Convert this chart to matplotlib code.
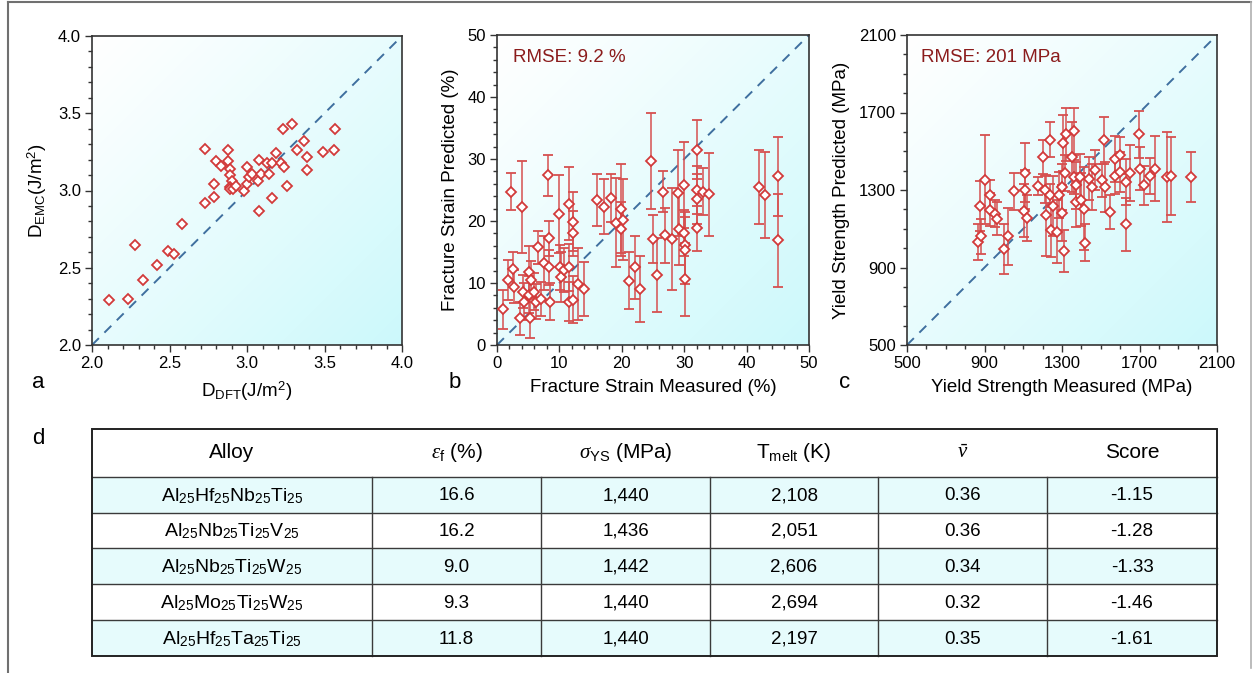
import numpy as np
import matplotlib
matplotlib.use('Agg')
import matplotlib.pyplot as plt
from matplotlib.ticker import MultipleLocator, FormatStrFormatter
from matplotlib.patches import Rectangle
from matplotlib.lines import Line2D

plt.rcParams['font.family'] = ['Liberation Sans', 'DejaVu Sans']
plt.rcParams['mathtext.fontset'] = 'custom'
plt.rcParams['mathtext.rm'] = 'Liberation Sans'
plt.rcParams['mathtext.it'] = 'Liberation Serif:italic'
plt.rcParams['mathtext.bf'] = 'Liberation Sans:bold'

# ---------------- data ----------------
# panel a
a_dft = [2.11, 2.23, 2.28, 2.33, 2.42, 2.49, 2.53, 2.58, 2.73, 2.73, 2.79, 2.79,
         2.80, 2.83, 2.88, 2.88, 2.89, 2.89, 2.90, 2.89, 2.89, 2.91, 2.93, 2.98,
         3.00, 3.00, 3.01, 3.03, 3.07, 3.08, 3.08, 3.09, 3.13, 3.14, 3.16, 3.16,
         3.19, 3.22, 3.24, 3.23, 3.26, 3.29, 3.32, 3.37, 3.39, 3.39, 3.49, 3.56,
         3.57]
a_emc = [2.29, 2.30, 2.65, 2.42, 2.52, 2.61, 2.59, 2.78, 3.27, 2.92, 2.96, 3.04,
         3.19, 3.16, 3.26, 3.19, 3.14, 3.10, 3.06, 3.02, 3.01, 3.01, 3.03, 3.00,
         3.15, 3.04, 3.09, 3.11, 3.06, 2.87, 3.20, 3.11, 3.18, 3.11, 2.95, 3.18,
         3.24, 3.18, 3.15, 3.40, 3.03, 3.43, 3.26, 3.32, 3.22, 3.13, 3.25, 3.26,
         3.40]

# panel b
b_meas = [0.96, 1.76, 2.3, 2.56, 2.67, 3.74, 4.06, 4.2, 4.4, 5.2, 5.2, 5.35, 5.5,
          6.0, 6.3, 6.5, 7.1, 7.6, 8.2, 8.3, 8.3, 8.5, 10.0, 10.1, 10.2, 10.7,
          11.5, 11.5, 11.6, 12.2, 12.2, 12.2, 13.0, 14.0, 16.0, 17.1, 18.2, 19.1,
          19.9, 19.9, 20.2, 21.1, 22.1, 22.9, 24.6, 25.0, 25.7, 26.6, 27.0, 28.1,
          29.0, 29.1, 29.9, 29.9, 30.1, 30.1, 30.1, 32.1, 32.1, 32.1, 32.1, 33.0,
          34.0, 42.0, 42.9, 45.0, 45.0]
b_pred = [5.75, 10.5, 24.7, 12.2, 9.4, 4.3, 22.3, 8.6, 7.0, 11.7, 8.1, 4.3, 10.5,
          8.6, 7.0, 15.75, 7.4, 13.2, 27.4, 17.2, 12.5, 7.0, 21.1, 12.5, 11.0, 12.1,
          22.8, 12.5, 7.0, 19.9, 18.0, 7.3, 9.8, 9.0, 23.4, 22.3, 23.7, 19.7,
          22.0, 18.7, 20.2, 10.4, 12.5, 9.0, 29.7, 17.1, 11.3, 24.7, 17.7, 17.1,
          24.5, 18.7, 25.8, 18.1, 16.1, 15.3, 10.6, 31.5, 25.0, 23.5, 18.8, 24.7,
          24.3, 25.5, 24.2, 27.2, 16.9]
b_err = [3.2, 3.2, 3.0, 2.8, 2.7, 2.7, 7.4, 2.7, 3.0, 4.2, 3.0, 3.1, 3.0,
         3.0, 2.8, 2.7, 2.8, 4.3, 3.3, 2.8, 2.8, 3.0, 6.3, 3.6, 4.0, 3.5,
         5.9, 3.8, 3.1, 4.7, 3.6, 3.8, 5.8, 4.4, 4.2, 4.4, 3.8, 7.2,
         7.2, 4.3, 6.5, 4.6, 5.1, 5.3, 7.7, 3.9, 5.9, 3.3, 4.4, 8.2,
         6.9, 5.8, 6.9, 3.7, 5.4, 5.4, 5.9, 4.8, 3.8, 4.0, 3.6, 3.8,
         6.7, 6.0, 6.9, 6.4, 7.5]
b_rmse = 'RMSE: 9.2 %'

# panel c
c_meas = [865, 878, 884, 901, 930, 927, 956, 964, 1002, 1019, 1054, 1102, 1111,
          1111, 1119, 1174, 1200, 1210, 1219, 1236, 1240, 1245, 1252, 1274, 1283,
          1300, 1300, 1305, 1312, 1317, 1322, 1351, 1360, 1360, 1372, 1374, 1394,
          1396, 1415, 1420, 1437, 1455, 1472, 1506, 1518, 1523, 1549, 1575, 1575,
          1601, 1601, 1628, 1628, 1649, 1697, 1704, 1725, 1752, 1781, 1842, 1862,
          1967]
c_pred = [1032, 1216, 1061, 1353, 1273, 1199, 1178, 1152, 993, 1061, 1293, 1192, 1302,
          1389, 1156, 1321, 1470, 1302, 1170, 1273, 1559, 1092, 1216, 1084, 1273,
          1182, 1316, 1542, 986, 1388, 1587, 1470, 1602, 1367, 1324, 1238, 1367,
          1250, 1204, 1029, 1358, 1316, 1401, 1350, 1556, 1316, 1187, 1461, 1371,
          1479, 1393, 1341, 1123, 1388, 1587, 1410, 1324, 1371, 1410, 1367, 1371,
          1367]
c_err = [93, 129, 90, 229, 80, 86, 70, 86, 129, 146, 94, 137, 100,
         153, 120, 47, 86, 69, 210, 60, 90, 136, 154, 163, 120,
         146, 120, 146, 107, 94, 137, 180, 120, 86, 120, 129, 120,
         137, 215, 94, 112, 120, 103, 86, 120, 129, 86, 120, 94,
         94, 103, 120, 137, 146, 120, 112, 99, 94, 169, 232, 202,
         129]
c_rmse = 'RMSE: 201 MPa'

# panel d table
tbl_header = ['Alloy', r'$\varepsilon_\mathrm{f}$ (%)', r'$\sigma_\mathrm{YS}$ (MPa)',
              r'T$_\mathrm{melt}$ (K)', r'$\bar{\nu}$', 'Score']
tbl_alloy = [r'Al$_{25}$Hf$_{25}$Nb$_{25}$Ti$_{25}$',
             r'Al$_{25}$Nb$_{25}$Ti$_{25}$V$_{25}$',
             r'Al$_{25}$Nb$_{25}$Ti$_{25}$W$_{25}$',
             r'Al$_{25}$Mo$_{25}$Ti$_{25}$W$_{25}$',
             r'Al$_{25}$Hf$_{25}$Ta$_{25}$Ti$_{25}$']
tbl_ef = ['16.6', '16.2', '9.0', '9.3', '11.8']
tbl_sys = ['1,440', '1,436', '1,442', '1,440', '1,440']
tbl_tmelt = ['2,108', '2,051', '2,606', '2,694', '2,197']
tbl_nu = ['0.36', '0.36', '0.34', '0.32', '0.35']
tbl_score = ['-1.15', '-1.28', '-1.33', '-1.46', '-1.61']

# ---------------- figure ----------------
W, H = 1253, 673
fig = plt.figure(figsize=(W / 100, H / 100), dpi=100)


def px_axes(x0, y0, x1, y1, **kw):
    return fig.add_axes([x0 / W, 1 - y1 / H, (x1 - x0) / W, (y1 - y0) / H], **kw)


RED = '#d23a3a'
RED_E = '#d65050'
DASH = '#3f6f9f'
CYAN = np.array([0.80, 0.975, 0.985])
SPINE = '#333333'


def gradient(ax):
    n = 200
    i = np.linspace(0, 1, n)[:, None]
    j = np.linspace(0, 1, n)[None, :]
    t = ((i + j) / 2.0) ** 1.1
    img = (1 - t)[..., None] * np.ones(3) + t[..., None] * CYAN
    ax.imshow(img, extent=[0, 1, 0, 1], transform=ax.transAxes, origin='upper',
              aspect='auto', zorder=0, interpolation='bilinear')


def style(ax, lo, hi, major, minor):
    ax.set_xlim(lo, hi)
    ax.set_ylim(lo, hi)
    ticks = np.arange(lo, hi + major * 0.5, major)
    ax.set_xticks(ticks)
    ax.set_yticks(ticks)
    ax.xaxis.set_minor_locator(MultipleLocator(minor))
    ax.yaxis.set_minor_locator(MultipleLocator(minor))
    ax.tick_params(which='major', direction='out', length=5, width=1.0,
                   labelsize=12, color=SPINE, pad=3)
    ax.tick_params(which='minor', direction='out', length=3, width=1.0, color=SPINE)
    for s in ax.spines.values():
        s.set_color(SPINE)
        s.set_linewidth(1.2)
    ax.plot([lo, hi], [lo, hi], color=DASH, lw=1.4, dashes=(5, 4), zorder=2)
    ax.set_xlim(lo, hi)
    ax.set_ylim(lo, hi)


# panel a
axa = px_axes(92, 36, 402, 345)
gradient(axa)
axa.plot(a_dft, a_emc, 'D', ms=5.5, mfc='white', mec=RED, mew=1.3, ls='none', zorder=3)
style(axa, 2.0, 4.0, 0.5, 0.1)
axa.xaxis.set_major_formatter(FormatStrFormatter('%.1f'))
axa.yaxis.set_major_formatter(FormatStrFormatter('%.1f'))
axa.set_xlabel(r'D$_\mathrm{DFT}$(J/m$^2$)', fontsize=13.5, labelpad=6)
axa.set_ylabel(r'D$_\mathrm{EMC}$(J/m$^2$)', fontsize=13.5, labelpad=6)

# panel b
axb = px_axes(497, 35, 809, 345)
gradient(axb)
axb.errorbar(b_meas, b_pred, yerr=b_err, fmt='D', ms=5.5, mfc='white', mec=RED,
             mew=1.3, ecolor=RED_E, elinewidth=1.1, capsize=3.5, capthick=1.1, zorder=3)
style(axb, 0, 50, 10, 2)
axb.set_xlabel('Fracture Strain Measured (%)', fontsize=13.5, labelpad=6)
axb.set_ylabel('Fracture Strain Predicted (%)', fontsize=13.5, labelpad=6)
axb.text(0.051, 0.926, b_rmse, transform=axb.transAxes, fontsize=13.5,
         color='#8b1c1c', ha='left', va='center', zorder=5)

# panel c
axc = px_axes(907, 35, 1217, 345)
gradient(axc)
axc.errorbar(c_meas, c_pred, yerr=c_err, fmt='D', ms=5.5, mfc='white', mec=RED,
             mew=1.3, ecolor=RED_E, elinewidth=1.1, capsize=3.5, capthick=1.1, zorder=3)
style(axc, 500, 2100, 400, 100)
axc.set_xlabel('Yield Strength Measured (MPa)', fontsize=13.5, labelpad=6)
axc.set_ylabel('Yield Strength Predicted (MPa)', fontsize=13.5, labelpad=6)
axc.text(0.045, 0.926, c_rmse, transform=axc.transAxes, fontsize=13.5,
         color='#8b1c1c', ha='left', va='center', zorder=5)

# overlay axes (pixel coordinates) for table, labels and frame
axt = fig.add_axes([0, 0, 1, 1], zorder=-1)
axt.set_xlim(0, W)
axt.set_ylim(H, 0)
axt.axis('off')

# figure frame
axt.add_line(Line2D([8, 8], [2, H], color='#707070', lw=1.5))
axt.add_line(Line2D([8, 1251], [2, 2], color='#707070', lw=1.5))
axt.add_line(Line2D([1251, 1251], [2, 668], color='#b0b0b0', lw=1.2))

# panel labels
for lab, (x, y) in zip(['a', 'b', 'c', 'd'],
                       [(38, 383), (455, 382), (845, 382), (38, 438)]):
    axt.text(x, y, lab, fontsize=16, ha='center', va='center')

# table
cols = [92, 372, 541, 710, 878, 1047, 1217]
rows = [429, 477, 513, 548, 584, 620, 656]
columns = [tbl_alloy, tbl_ef, tbl_sys, tbl_tmelt, tbl_nu, tbl_score]
for r in range(5):
    y0, y1 = rows[r + 1], rows[r + 2]
    if r % 2 == 0:
        axt.add_patch(Rectangle((cols[0], y0), cols[-1] - cols[0], y1 - y0,
                                facecolor='#e6fbfc', edgecolor='none', zorder=1))
    for c in range(6):
        axt.text((cols[c] + cols[c + 1]) / 2, (y0 + y1) / 2 + 1, columns[c][r],
                 fontsize=14 if c == 0 else 13.5, ha='center', va='center', zorder=3)
for c in range(6):
    axt.text((cols[c] + cols[c + 1]) / 2, (rows[0] + rows[1]) / 2, tbl_header[c],
             fontsize=15, ha='center', va='center', zorder=3)
# inner lines
for y in rows[1:-1]:
    axt.add_line(Line2D([cols[0], cols[-1]], [y, y], color='#3a3a3a', lw=1.0, zorder=2))
for x in cols[1:-1]:
    axt.add_line(Line2D([x, x], [rows[1], rows[-1]], color='#3a3a3a', lw=1.0, zorder=2))
axt.add_patch(Rectangle((cols[0], rows[0]), cols[-1] - cols[0], rows[-1] - rows[0],
                        facecolor='none', edgecolor='#222222', lw=1.4, zorder=4))

fig.savefig('out.png', dpi=100)
